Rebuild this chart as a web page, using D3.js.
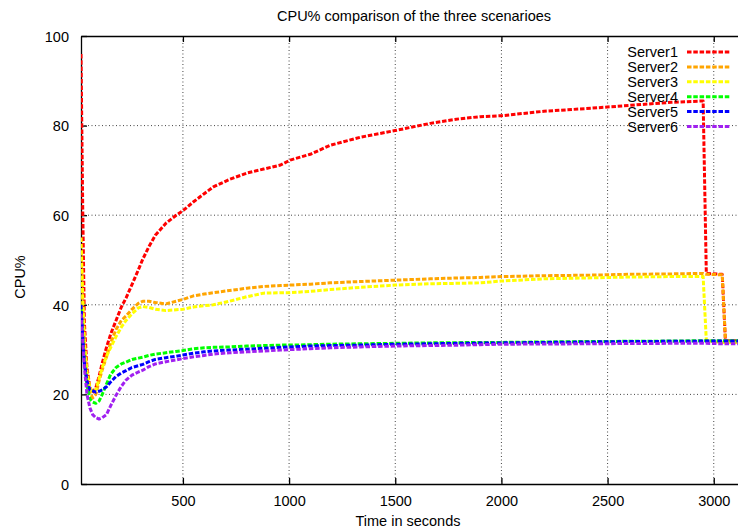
<!DOCTYPE html>
<html>
<head>
<meta charset="utf-8">
<script src="https://cdn.jsdelivr.net/npm/d3@7"></script>
<style>
  html, body { margin: 0; padding: 0; background: #fff; overflow: hidden; }
  svg { display: block; font-family: "Liberation Sans", Arial, sans-serif; }
</style>
</head>
<body>
<svg id="chart" width="738" height="531"></svg>
<script>
// ---- data ----
const title = "CPU% comparison of the three scenarioes";
const xLabel = "Time in seconds";
const yLabel = "CPU%";
const seriesNames = ["Server1", "Server2", "Server3", "Server4", "Server5", "Server6"];
const seriesColors = ["#ff0000", "#ffa500", "#ffff00", "#00ff00", "#0000ff", "#a020f0"];
const xTicks = [500, 1000, 1500, 2000, 2500, 3000];
const yTicks = [0, 20, 40, 60, 80, 100];

const times = [20, 28, 36, 48, 62, 75, 90, 105, 120, 140, 160, 185, 210, 232, 260, 290, 311, 340, 370, 420, 468, 500, 550, 600, 643, 720, 801, 880, 960, 1005, 1100, 1193, 1335, 1500, 1665, 1800, 1900, 2000, 2200, 2400, 2600, 2800, 2950, 2965, 3040, 3055, 3150];

const server1 = [96, 62, 36, 26, 21.5, 20.3, 21.5, 24, 27, 30.5, 33.5, 36.5, 39.5, 41.5, 44.5, 47.8, 50.2, 53, 55.5, 58.2, 60, 61, 63, 64.8, 66.3, 68, 69.4, 70.3, 71.2, 72.3, 73.6, 75.6, 77.4, 78.9, 80.5, 81.5, 82, 82.2, 83.2, 83.8, 84.5, 85.2, 85.5, 47, 46.8, 32, 32];
const server2 = [52, 40, 31, 24, 20.5, 19.2, 20, 23, 25.5, 28.4, 31.5, 34.5, 36.5, 37.5, 39, 40.3, 40.8, 40.8, 40.5, 40.2, 40.8, 41.2, 42, 42.4, 42.7, 43.2, 43.7, 44.1, 44.3, 44.4, 44.6, 44.9, 45.2, 45.5, 45.8, 46, 46.1, 46.3, 46.5, 46.6, 46.8, 46.9, 47, 46.8, 46.7, 32, 32];
const server3 = [55, 42, 32, 25, 21.5, 20.5, 21, 23.5, 26, 28.5, 30.5, 32.9, 35, 36.5, 38, 39.3, 39.6, 39.4, 39, 38.7, 38.9, 39, 39.5, 39.8, 40, 40.8, 41.8, 42.6, 42.7, 42.7, 43, 43.4, 43.9, 44.4, 44.7, 44.8, 44.9, 45.3, 45.8, 46, 46.2, 46.3, 46.3, 32, 31.6, 31.6, 31.6];
const server4 = [39, 33, 27, 22, 19, 18.3, 18, 18.5, 20, 22.3, 24.5, 26, 26.8, 27.2, 27.8, 28.1, 28.3, 28.7, 29, 29.3, 29.6, 29.8, 30.2, 30.4, 30.5, 30.6, 30.8, 30.9, 31, 31, 31.1, 31.2, 31.3, 31.4, 31.5, 31.55, 31.6, 31.6, 31.7, 31.8, 31.85, 31.9, 32, 32, 32, 32, 32];
const server5 = [40, 33, 27, 23, 21, 20.8, 20.5, 20.7, 21, 21.7, 22.8, 24, 24.8, 25.3, 26, 26.4, 26.7, 27.3, 27.8, 28.2, 28.5, 28.8, 29.2, 29.5, 29.7, 29.9, 30.1, 30.3, 30.5, 30.6, 30.8, 30.9, 31, 31.2, 31.3, 31.4, 31.45, 31.5, 31.6, 31.7, 31.8, 31.85, 31.9, 31.9, 31.9, 31.9, 31.9];
const server6 = [38, 32, 26, 20, 17, 15.5, 14.8, 14.5, 14.8, 15.5, 17.5, 19.8, 21.8, 23.2, 24.3, 25, 25.4, 26.2, 26.8, 27.3, 27.7, 28, 28.4, 28.7, 29, 29.3, 29.5, 29.7, 29.9, 30, 30.2, 30.4, 30.6, 30.8, 30.9, 31, 31.1, 31.2, 31.25, 31.3, 31.35, 31.4, 31.4, 31.4, 31.3, 31.3, 31.3];

const seriesValues = [server1, server2, server3, server4, server5, server6];

// ---- layout ----
const svg = d3.select("#chart");
const mLeft = 81, mRight = 745.6, mTop = 36, mBottom = 484;

const x = d3.scaleLinear().domain([20, 3150]).range([mLeft, mRight]);
const y = d3.scaleLinear().domain([0, 100]).range([mBottom, mTop]);

svg.append("defs").append("clipPath").attr("id", "clip")
  .append("rect").attr("x", mLeft).attr("y", mTop).attr("width", mRight - mLeft).attr("height", mBottom - mTop);

// grid
const grid = svg.append("g");
grid.selectAll(".gx").data(xTicks).enter().append("line")
  .attr("x1", d => x(d)).attr("x2", d => x(d)).attr("y1", mTop).attr("y2", mBottom)
  .attr("stroke", "#444").attr("stroke-width", 1).attr("stroke-dasharray", "1,2.5");
grid.selectAll(".gy").data(yTicks.filter(d => d > 0 && d < 100)).enter().append("line")
  .attr("x1", mLeft).attr("x2", mRight).attr("y1", d => y(d)).attr("y2", d => y(d))
  .attr("stroke", "#444").attr("stroke-width", 1).attr("stroke-dasharray", "1,2.5");

// axes (ticks inward, mirrored)
const fmt = d3.format("d");
const xAxisB = d3.axisBottom(x).tickValues(xTicks).tickFormat(fmt).tickSizeInner(-6).tickSizeOuter(0).tickPadding(12);
const gxb = svg.append("g").attr("transform", `translate(0,${mBottom})`).call(xAxisB);
const xAxisT = d3.axisTop(x).tickValues(xTicks).tickSizeInner(-6).tickSizeOuter(0).tickFormat("");
const gxt = svg.append("g").attr("transform", `translate(0,${mTop})`).call(xAxisT);
const yAxisL = d3.axisLeft(y).tickValues(yTicks).tickFormat(fmt).tickSizeInner(-6).tickSizeOuter(0).tickPadding(12);
const gyl = svg.append("g").attr("transform", `translate(${mLeft},0)`).call(yAxisL);

[gxb, gxt, gyl].forEach(g => {
  g.select(".domain").attr("stroke", "#000").attr("stroke-width", 1.3);
  g.selectAll(".tick line").attr("stroke", "#000").attr("stroke-width", 1.3);
  g.selectAll(".tick text").attr("fill", "#000").attr("font-size", "14.5px")
    .attr("font-family", "Liberation Sans, Arial, sans-serif");
});
gyl.selectAll(".tick text").attr("dy", "0.36em");
gxb.selectAll(".tick text").attr("dy", "0.71em");

// lines
const line = d3.line().x((d, i) => x(times[i])).y(d => y(d));
const plot = svg.append("g").attr("clip-path", "url(#clip)");
seriesValues.forEach((vals, k) => {
  plot.append("path").datum(vals)
    .attr("d", line)
    .attr("fill", "none")
    .attr("stroke", seriesColors[k])
    .attr("stroke-width", 3)
    .attr("stroke-dasharray", "4.5,1.8")
    .attr("stroke-linejoin", "round");
});

// legend
const legend = svg.append("g");
seriesNames.forEach((name, k) => {
  const yy = 52 + k * 14.9;
  legend.append("text").attr("x", 678).attr("y", yy).attr("dy", "0.36em")
    .attr("text-anchor", "end").attr("font-size", "14.5px").attr("fill", "#000").text(name);
  legend.append("line").attr("x1", 687).attr("x2", 731).attr("y1", yy).attr("y2", yy)
    .attr("stroke", seriesColors[k]).attr("stroke-width", 3).attr("stroke-dasharray", "4.5,1.8");
});

// titles
svg.append("text").attr("x", 414).attr("y", 21).attr("text-anchor", "middle")
  .attr("font-size", "14.5px").attr("fill", "#000").text(title);
svg.append("text").attr("x", 408).attr("y", 526).attr("text-anchor", "middle")
  .attr("font-size", "14.5px").attr("fill", "#000").text(xLabel);
svg.append("text").attr("transform", "translate(25,277) rotate(-90)").attr("text-anchor", "middle")
  .attr("font-size", "14.5px").attr("fill", "#000").text(yLabel);
</script>
</body>
</html>
